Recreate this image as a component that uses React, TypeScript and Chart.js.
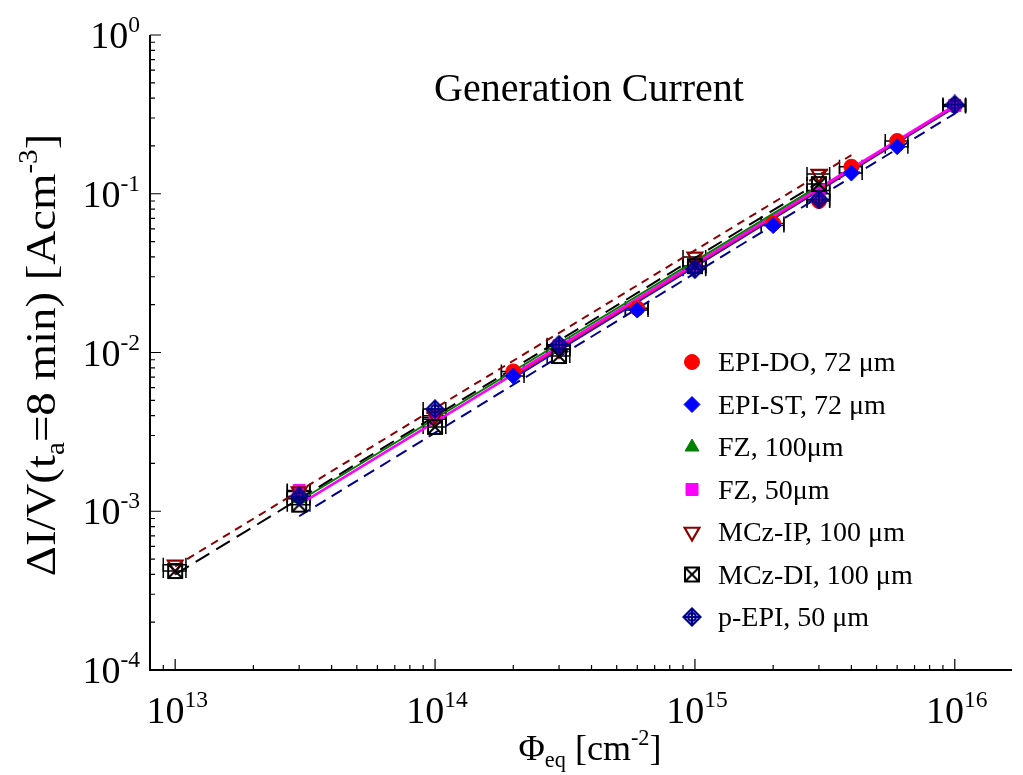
import React, { useEffect, useRef } from 'react';
import { Chart, registerables } from 'chart.js';
import { drawPoint } from 'chart.js/helpers';

Chart.register(...registerables);

const FONT = '"Liberation Serif", "Times New Roman", serif';

// Axis ranges
const X_MIN = 8e12;
const X_MAX = 1.66e16;
const Y_MIN = 1e-4;
const Y_MAX = 1;
const X_DECADES = [13, 14, 15, 16];
const Y_DECADES = [-4, -3, -2, -1, 0];
const X_ERR_REL = 0.1;

// Measured data (fluence in cm^-2, current density in A/cm^3)
const EPI_DO_X = [2e14, 6e14, 2e15, 3e15, 4e15, 6e15, 1e16];
const EPI_DO_Y = [7.6e-3, 1.9e-2, 6.5e-2, 9.0e-2, 0.148, 0.215, 0.36];
const EPI_ST_X = [2e14, 6e14, 2e15, 4e15, 6e15, 1e16];
const EPI_ST_Y = [7.1e-3, 1.85e-2, 6.3e-2, 0.135, 0.198, 0.355];
const FZ100_X = [3e13, 1e14, 3e14, 1e15, 3e15];
const FZ100_Y = [1.2e-3, 3.8e-3, 1.05e-2, 3.4e-2, 0.105];
const FZ50_X = [3e13, 1e14, 3e14, 1e15, 3e15, 1e16];
const FZ50_Y = [1.35e-3, 3.9e-3, 1.1e-2, 3.5e-2, 0.1, 0.36];
const MCZIP_X = [1e13, 3e13, 1e14, 3e14, 1e15, 3e15];
const MCZIP_Y = [4.6e-4, 1.33e-3, 4.0e-3, 1.05e-2, 4.0e-2, 0.133];
const MCZDI_X = [1e13, 3e13, 1e14, 3e14, 1e15, 3e15];
const MCZDI_Y = [4.2e-4, 1.1e-3, 3.4e-3, 9.5e-3, 3.5e-2, 0.115];
const PEPI_X = [3e13, 1e14, 3e14, 1e15, 3e15, 1e16];
const PEPI_Y = [1.24e-3, 4.4e-3, 1.12e-2, 3.35e-2, 9.2e-2, 0.365];

// Linear fits (end points)
const FIT_EPI_DO_X = [2e14, 1e16];
const FIT_EPI_DO_Y = [7.1e-3, 0.355];
const FIT_EPI_ST_X = [2e14, 1e16];
const FIT_EPI_ST_Y = [6.9e-3, 0.35];
const FIT_FZ100_X = [3e13, 3e15];
const FIT_FZ100_Y = [1.16e-3, 0.112];
const FIT_FZ50_X = [3e13, 1e16];
const FIT_FZ50_Y = [1.1e-3, 0.36];
const FIT_MCZIP_X = [1e13, 4e15];
const FIT_MCZIP_Y = [4.5e-4, 0.175];
const FIT_MCZDI_X = [1e13, 3e15];
const FIT_MCZDI_Y = [4.0e-4, 0.118];
const FIT_PEPI_X = [3e13, 1e16];
const FIT_PEPI_Y = [9.3e-4, 0.32];

const LEGEND_LABELS = [
  'EPI-DO, 72 \u03bcm',
  'EPI-ST, 72 \u03bcm',
  'FZ, 100\u03bcm',
  'FZ, 50\u03bcm',
  'MCz-IP, 100 \u03bcm',
  'MCz-DI, 100 \u03bcm',
  'p-EPI, 50 \u03bcm',
];

function makeBoxX(): HTMLCanvasElement {
  const c = document.createElement('canvas');
  c.width = 18;
  c.height = 18;
  const g = c.getContext('2d')!;
  g.strokeStyle = '#000';
  g.lineWidth = 2;
  g.strokeRect(2, 2, 14, 14);
  g.beginPath();
  g.moveTo(2, 2);
  g.lineTo(16, 16);
  g.moveTo(16, 2);
  g.lineTo(2, 16);
  g.stroke();
  return c;
}

function makeDiamondPlus(): HTMLCanvasElement {
  const c = document.createElement('canvas');
  c.width = 20;
  c.height = 20;
  const g = c.getContext('2d')!;
  g.strokeStyle = '#00008b';
  g.lineWidth = 2.2;
  g.beginPath();
  g.moveTo(10, 1.5);
  g.lineTo(18.5, 10);
  g.lineTo(10, 18.5);
  g.lineTo(1.5, 10);
  g.closePath();
  g.stroke();
  g.beginPath();
  g.moveTo(10, 1.5);
  g.lineTo(10, 18.5);
  g.moveTo(1.5, 10);
  g.lineTo(18.5, 10);
  g.stroke();
  g.beginPath();
  g.arc(10, 10, 3.8, 0, Math.PI * 2);
  g.stroke();
  return c;
}

type Part = [string, 'n' | 'sup' | 'sub'];

function partFont(size: number, kind: string) {
  const s = kind === 'n' ? size : size * 0.62;
  return `${s}px ${FONT}`;
}

function richWidth(ctx: CanvasRenderingContext2D, parts: Part[], size: number) {
  let w = 0;
  for (const [t, k] of parts) {
    ctx.font = partFont(size, k);
    w += ctx.measureText(t).width;
  }
  return w;
}

function drawRich(
  ctx: CanvasRenderingContext2D,
  parts: Part[],
  x: number,
  y: number,
  size: number,
  align: 'left' | 'center' | 'right'
) {
  const w = richWidth(ctx, parts, size);
  let cx = align === 'left' ? x : align === 'center' ? x - w / 2 : x - w;
  ctx.textAlign = 'left';
  ctx.textBaseline = 'alphabetic';
  for (const [t, k] of parts) {
    ctx.font = partFont(size, k);
    const dy = k === 'sup' ? -size * 0.42 : k === 'sub' ? size * 0.2 : 0;
    ctx.fillText(t, cx, y + dy);
    cx += ctx.measureText(t).width;
  }
}

const overlayPlugin = {
  id: 'overlay',
  beforeDatasetsDraw(chart: any) {
    const ctx: CanvasRenderingContext2D = chart.ctx;
    const xs = chart.scales.x;
    const ys = chart.scales.y;
    ctx.save();
    ctx.strokeStyle = '#000';
    ctx.lineWidth = 1.5;
    chart.data.datasets.forEach((ds: any) => {
      if (!ds.isPoints) return;
      ds.data.forEach((p: any) => {
        const x0 = xs.getPixelForValue(p.x * (1 - X_ERR_REL));
        const x1 = xs.getPixelForValue(p.x * (1 + X_ERR_REL));
        const y = ys.getPixelForValue(p.y);
        ctx.beginPath();
        ctx.moveTo(x0, y);
        ctx.lineTo(x1, y);
        ctx.moveTo(x0, y - 7);
        ctx.lineTo(x0, y + 7);
        ctx.moveTo(x1, y - 7);
        ctx.lineTo(x1, y + 7);
        ctx.stroke();
      });
    });
    ctx.restore();
  },
  afterDraw(chart: any) {
    const ctx: CanvasRenderingContext2D = chart.ctx;
    const { left, right, top, bottom } = chart.chartArea;
    const xs = chart.scales.x;
    const ys = chart.scales.y;
    ctx.save();
    ctx.strokeStyle = '#000';
    ctx.fillStyle = '#000';
    // axis lines
    ctx.lineWidth = 2;
    ctx.beginPath();
    ctx.moveTo(left, top);
    ctx.lineTo(left, bottom);
    ctx.lineTo(right, bottom);
    ctx.stroke();
    // ticks
    ctx.lineWidth = 1.2;
    ctx.beginPath();
    for (let d = 12; d <= 16; d++) {
      for (let k = 1; k <= 9; k++) {
        const v = k * Math.pow(10, d);
        if (v < X_MIN || v > X_MAX) continue;
        const px = xs.getPixelForValue(v);
        const len = k === 1 ? 11 : 5;
        ctx.moveTo(px, bottom);
        ctx.lineTo(px, bottom - len);
      }
    }
    for (let d = -4; d <= 0; d++) {
      for (let k = 1; k <= 9; k++) {
        const v = k * Math.pow(10, d);
        if (v < Y_MIN * 0.999 || v > Y_MAX * 1.001) continue;
        const py = ys.getPixelForValue(v);
        const len = k === 1 ? 11 : 5;
        ctx.moveTo(left, py);
        ctx.lineTo(left + len, py);
      }
    }
    ctx.stroke();
    // tick labels
    X_DECADES.forEach((d) => {
      const px = xs.getPixelForValue(Math.pow(10, d));
      drawRich(ctx, [['10', 'n'], [String(d), 'sup']], px + 2, bottom + 53, 38, 'center');
    });
    Y_DECADES.forEach((d) => {
      const py = ys.getPixelForValue(Math.pow(10, d));
      drawRich(ctx, [['10', 'n'], [String(d), 'sup']], left - 10, py + 13, 38, 'right');
    });
    // axis titles
    drawRich(
      ctx,
      [['\u03a6', 'n'], ['eq', 'sub'], [' [cm', 'n'], ['-2', 'sup'], [']', 'n']],
      590,
      760,
      36,
      'center'
    );
    ctx.save();
    ctx.translate(55, 355);
    ctx.rotate(-Math.PI / 2);
    ctx.scale(1.09, 1);
    drawRich(
      ctx,
      [
        ['\u0394I/V(t', 'n'],
        ['a', 'sub'],
        ['=8 min) [Acm', 'n'],
        ['-3', 'sup'],
        [']', 'n'],
      ],
      0,
      0,
      43,
      'center'
    );
    ctx.restore();
    // title
    drawRich(ctx, [['Generation Current', 'n']], 589, 101, 40, 'center');
    // legend
    const pointSets = chart.data.datasets.filter((ds: any) => ds.isPoints);
    pointSets.sort((a: any, b: any) => a.legendIndex - b.legendIndex);
    pointSets.forEach((ds: any, i: number) => {
      const y = 362 + 42.5 * i;
      ctx.save();
      ctx.fillStyle = ds.backgroundColor;
      ctx.strokeStyle = ds.borderColor;
      ctx.lineWidth = ds.borderWidth;
      drawPoint(
        ctx,
        {
          pointStyle: ds.pointStyle,
          rotation: ds.rotation || 0,
          radius: ds.pointRadius,
          borderWidth: ds.borderWidth,
        } as any,
        692,
        y
      );
      ctx.restore();
      ctx.fillStyle = '#000';
      drawRich(ctx, [[LEGEND_LABELS[i], 'n']], 718, y + 9, 28, 'left');
    });
    ctx.restore();
  },
};

function pts(xs: number[], ys: number[]) {
  return xs.map((x, i) => ({ x, y: ys[i] }));
}

export default function App() {
  const ref = useRef<HTMLCanvasElement | null>(null);
  useEffect(() => {
    if (!ref.current) return;
    const boxX = makeBoxX();
    const diamondPlus = makeDiamondPlus();
    const fit = (xs: number[], ys: number[], color: string, dash: number[], width = 2) => ({
      type: 'line',
      data: pts(xs, ys),
      borderColor: color,
      backgroundColor: color,
      borderWidth: width,
      borderDash: dash,
      pointRadius: 0,
      showLine: true,
      fill: false,
      order: 20,
    });
    const points = (
      xs: number[],
      ys: number[],
      style: any,
      bg: string,
      border: string,
      radius: number,
      bw: number,
      order: number,
      legendIndex: number,
      rotation = 0
    ) => ({
      type: 'scatter',
      data: pts(xs, ys),
      pointStyle: style,
      backgroundColor: bg,
      borderColor: border,
      pointRadius: radius,
      pointHoverRadius: radius,
      borderWidth: bw,
      rotation,
      pointRotation: rotation,
      showLine: false,
      order,
      isPoints: true,
      legendIndex,
    });
    const chart = new Chart(ref.current, {
      type: 'scatter',
      data: {
        datasets: [
          fit(FIT_MCZIP_X, FIT_MCZIP_Y, '#8b0000', [8, 6], 2),
          fit(FIT_MCZDI_X, FIT_MCZDI_Y, '#000000', [16, 8], 2),
          fit(FIT_FZ100_X, FIT_FZ100_Y, '#008000', [], 2),
          fit(FIT_FZ50_X, FIT_FZ50_Y, '#ff00ff', [], 2.5),
          fit(FIT_EPI_DO_X, FIT_EPI_DO_Y, '#ff0000', [], 2),
          fit(FIT_EPI_ST_X, FIT_EPI_ST_Y, '#0000ff', [], 2),
          fit(FIT_PEPI_X, FIT_PEPI_Y, '#00008b', [12, 7], 2),
          points(FZ100_X, FZ100_Y, 'triangle', '#008000', '#008000', 8, 1, 9, 2),
          points(EPI_DO_X, EPI_DO_Y, 'circle', '#ff0000', '#ff0000', 7.5, 1, 8, 0),
          points(EPI_ST_X, EPI_ST_Y, 'rectRot', '#0000ff', '#0000ff', 8, 1, 7, 1),
          points(FZ50_X, FZ50_Y, 'rect', '#ff00ff', '#ff00ff', 8.5, 1, 6, 3),
          points(MCZIP_X, MCZIP_Y, 'triangle', 'rgba(0,0,0,0)', '#8b0000', 8.5, 2.2, 5, 4, 180),
          points(MCZDI_X, MCZDI_Y, boxX, '#000', '#000', 9, 1, 4, 5),
          points(PEPI_X, PEPI_Y, diamondPlus, '#00008b', '#00008b', 10, 1, 3, 6),
        ] as any,
      },
      options: {
        animation: false,
        responsive: false,
        devicePixelRatio: 1,
        layout: { padding: { left: 150, top: 35, right: 3, bottom: 105 } },
        scales: {
          x: { type: 'logarithmic', min: X_MIN, max: X_MAX, display: false },
          y: { type: 'logarithmic', min: Y_MIN, max: Y_MAX, display: false },
        },
        plugins: {
          legend: { display: false },
          tooltip: { enabled: false },
          title: { display: false },
        },
      },
      plugins: [overlayPlugin],
    } as any);
    return () => chart.destroy();
  }, []);
  return (
    <div style={{ position: 'fixed', left: 0, top: 0, width: 1023, height: 775, background: '#fff' }}>
      <canvas ref={ref} width={1023} height={775} style={{ display: 'block' }} />
    </div>
  );
}
